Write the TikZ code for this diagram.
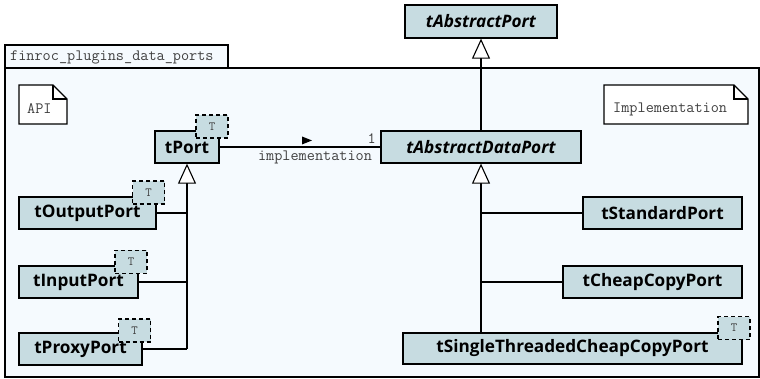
\documentclass[tikz,border=0pt]{standalone}
\usepackage{fontspec}
\setmainfont{Open Sans}
\usetikzlibrary{arrows.meta,shapes.geometric}
\definecolor{clsfill}{HTML}{C7DCE1}
\definecolor{pkgfill}{HTML}{F5FAFE}
\definecolor{txtgray}{HTML}{404040}
\tikzset{
  cls/.style={draw=black, line width=1.3pt, fill=clsfill, inner sep=0pt,
    font=\fontsize{17.2}{19}\selectfont\bfseries},
  abscls/.style={cls, font=\fontsize{17.2}{19}\selectfont\bfseries\itshape},
  tparam/.style={draw=black, line width=1.2pt, dash pattern=on 4pt off 3pt, fill=clsfill,
    inner sep=0pt, minimum width=32pt, minimum height=23pt,
    font=\fontsize{12.5}{13}\selectfont\ttfamily, text=txtgray},
  conn/.style={line width=1.1pt},
  gen/.style={conn, -{Triangle[open, length=20pt, width=18pt, fill=white]}},
  monotxt/.style={font=\fontsize{15.8}{17}\selectfont\ttfamily, text=txtgray, inner sep=0pt},
}
\begin{document}
\begin{tikzpicture}[x=1pt, y=-1pt]
\useasboundingbox (0,0) rectangle (760,379);
% package
\draw[line width=1.1pt, fill=pkgfill] (5,45) rectangle (228,68);
\draw[line width=1.1pt, fill=pkgfill] (5,68) rectangle (759,377);
\node[monotxt, anchor=west] (pkg) at (10,57) {finroc\_plugins\_data\_ports};
% notes
\draw[line width=1.1pt, fill=white] (19,85) -- (53,85) -- (67,99) -- (67,124) -- (19,124) -- cycle;
\draw[line width=1.1pt] (53,85) -- (53,99) -- (67,99);
\node[monotxt, anchor=west] (api) at (27,109) {API};
\draw[line width=1.1pt, fill=white] (604,85) -- (734,85) -- (748,99) -- (748,124) -- (604,124) -- cycle;
\draw[line width=1.1pt] (734,85) -- (734,99) -- (748,99);
\node[monotxt, anchor=west] (impl) at (613,109) {Implementation};
% classes
\node[abscls, minimum width=152pt, minimum height=33pt] (tAP) at (481,21.5) {tAbstractPort};
\node[abscls, minimum width=200pt, minimum height=32pt] (tADP) at (481,147) {tAbstractDataPort};
\node[cls, minimum width=64pt, minimum height=32pt] (tPort) at (187,147) {tPort};
\node[cls, minimum width=137pt, minimum height=32pt] (tOut) at (87.5,213) {tOutputPort};
\node[cls, minimum width=119pt, minimum height=32pt] (tIn) at (78.5,282) {tInputPort};
\node[cls, minimum width=123pt, minimum height=32pt] (tProxy) at (80.5,349) {tProxyPort};
\node[cls, minimum width=159pt, minimum height=32pt] (tStd) at (662.5,213) {tStandardPort};
\node[cls, minimum width=179pt, minimum height=32pt] (tCheap) at (652.5,282) {tCheapCopyPort};
\node[cls, minimum width=339pt, minimum height=31pt] (tSingle) at (572.5,348.5) {tSingleThreadedCheapCopyPort};
% template params
\node[tparam] (Tport) at (212,126.5) {T};
\node[tparam] (Tout) at (148.5,192.5) {T};
\node[tparam] (Tin) at (131,262) {T};
\node[tparam] (Tproxy) at (134.5,330.5) {T};
\node[tparam] (Tsingle) at (734,328) {T};
% generalizations
\draw[gen] (tADP.north) -- (tAP.south);
\draw[gen] (tSingle.north -| tADP.south) -- (tADP.south);
\draw[conn] (tStd.west) -- (tStd.west -| tADP.south);
\draw[conn] (tCheap.west) -- (tCheap.west -| tADP.south);
\draw[gen] (tProxy.east -| tPort.south) -- (tPort.south);
\draw[conn] (tProxy.east) -- (tProxy.east -| tPort.south);
\draw[conn] (tIn.east) -- (tIn.east -| tPort.south);
\draw[conn] (tOut.east) -- (tOut.east -| tPort.south);
% association
\draw[conn] (tPort.east) -- (tADP.west);
\fill (302,136.5) -- (312,140.5) -- (302,144.5) -- cycle;
\node[monotxt, anchor=east] (mult) at (376,139) {1};
\node[monotxt] (role) at (315,157) {implementation};
\end{tikzpicture}
\end{document}
